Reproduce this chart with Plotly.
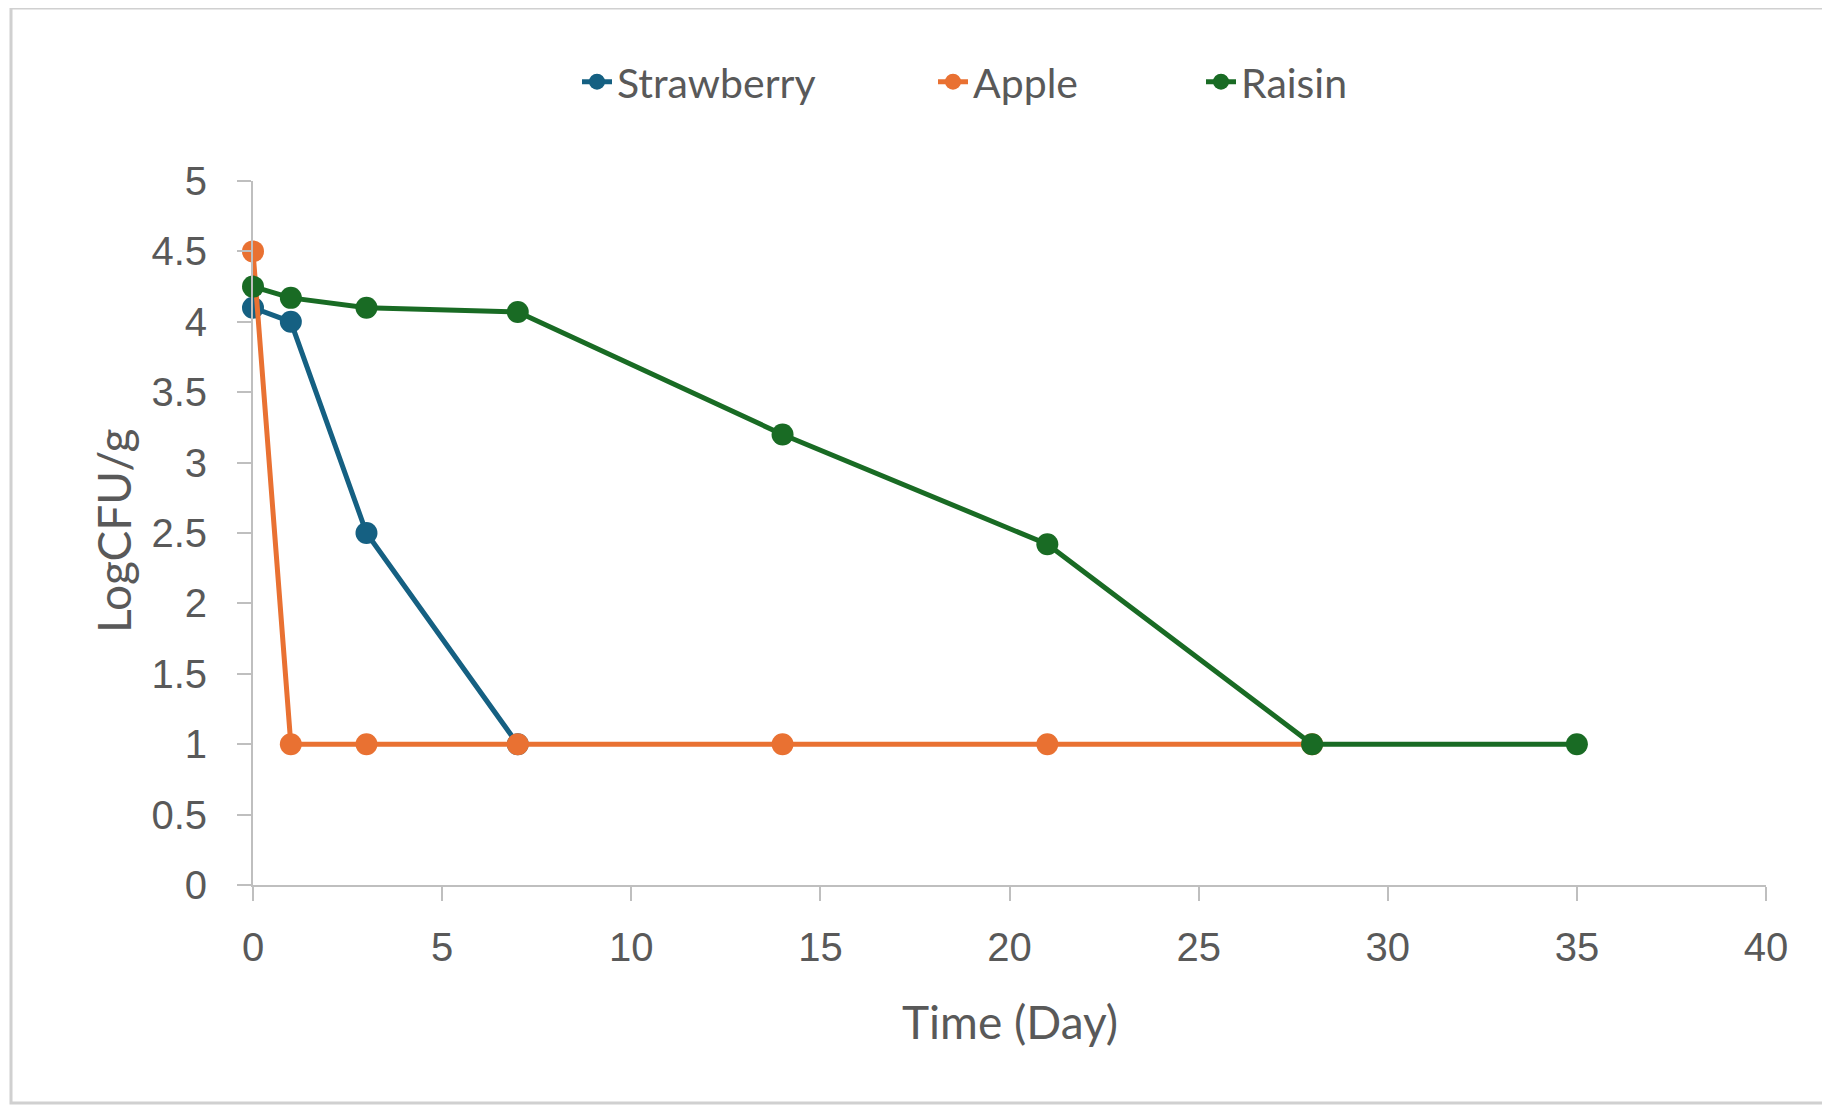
import plotly.graph_objects as go

days_strawberry = [0, 1, 3, 7]
strawberry = [4.1, 4.0, 2.5, 1.0]
days_apple = [0, 1, 3, 7, 14, 21, 28]
apple = [4.5, 1.0, 1.0, 1.0, 1.0, 1.0, 1.0]
days_raisin = [0, 1, 3, 7, 14, 21, 28, 35]
raisin = [4.25, 4.17, 4.1, 4.07, 3.2, 2.42, 1.0, 1.0]
x_ticks = [0, 5, 10, 15, 20, 25, 30, 35, 40]
y_ticks = [0, 0.5, 1, 1.5, 2, 2.5, 3, 3.5, 4, 4.5, 5]
y_ticktext = ["0", "0.5", "1", "1.5", "2", "2.5", "3", "3.5", "4", "4.5", "5"]

OFF = 8  # page body margin
W, H = 1830 - OFF, 1105 - OFF
L, R, T, B = 253 - OFF, 64, 181 - OFF, 220
pw, ph = W - L - R, H - T - B

def px(xs):
    return (xs - OFF - L) / pw

def py(ys):
    return (H - B - (ys - OFF)) / ph

series = [
    ("Strawberry", days_strawberry, strawberry, "#156082", "legend", 577),
    ("Apple", days_apple, apple, "#E97132", "legend2", 933),
    ("Raisin", days_raisin, raisin, "#196B24", "legend3", 1201),
]

grey = "#595959"
axis_col = "#BFBFBF"
font_tick = dict(family="Liberation Sans, Arial", size=40, color=grey)
font_title = dict(family="Lato, Liberation Sans", size=46, color=grey)
font_leg = dict(family="Lato, Liberation Sans", size=41, color=grey)

fig = go.Figure()
legends = {}
for name, x, y, c, lg, lx in series:
    fig.add_trace(go.Scatter(
        x=x, y=y, name=name, mode="lines+markers",
        line=dict(color=c, width=5),
        marker=dict(color=c, size=22),
        cliponaxis=False, legend=lg,
    ))
    legends[lg] = dict(orientation="h", x=px(lx), y=py(82), xanchor="left", yanchor="middle",
                       font=font_leg, bgcolor="rgba(0,0,0,0)")

fig.update_layout(
    width=W, height=H,
    margin=dict(l=L, r=R, t=T, b=B),
    paper_bgcolor="white", plot_bgcolor="white",
    showlegend=True,
    **legends,
    xaxis=dict(range=[0, 40], tickvals=x_ticks,
               showgrid=False, zeroline=False, showline=True, linecolor=axis_col, linewidth=2,
               ticks="outside", ticklen=14, tickcolor=axis_col, tickwidth=2,
               tickfont=font_tick, ticklabelstandoff=12),
    yaxis=dict(range=[0, 5], tickvals=y_ticks, ticktext=y_ticktext,
               showgrid=False, zeroline=False, showline=True, linecolor=axis_col, linewidth=2,
               ticks="outside", ticklen=14, tickcolor=axis_col, tickwidth=2,
               tickfont=font_tick, ticklabelstandoff=22),
    annotations=[
        dict(text="Time (Day)", xref="paper", yref="paper", x=px(1010), y=py(1021),
             xanchor="center", yanchor="middle", showarrow=False, font=font_title),
        dict(text="LogCFU/g", xref="paper", yref="paper", x=px(113), y=py(531),
             xanchor="center", yanchor="middle", textangle=-90, showarrow=False, font=font_title),
    ],
    shapes=[dict(type="rect", xref="paper", yref="paper",
                 x0=px(11), x1=px(1827), y0=py(1103), y1=py(8),
                 line=dict(color="#D0D0D0", width=3), layer="below")],
)

fig.write_html("out.html")
